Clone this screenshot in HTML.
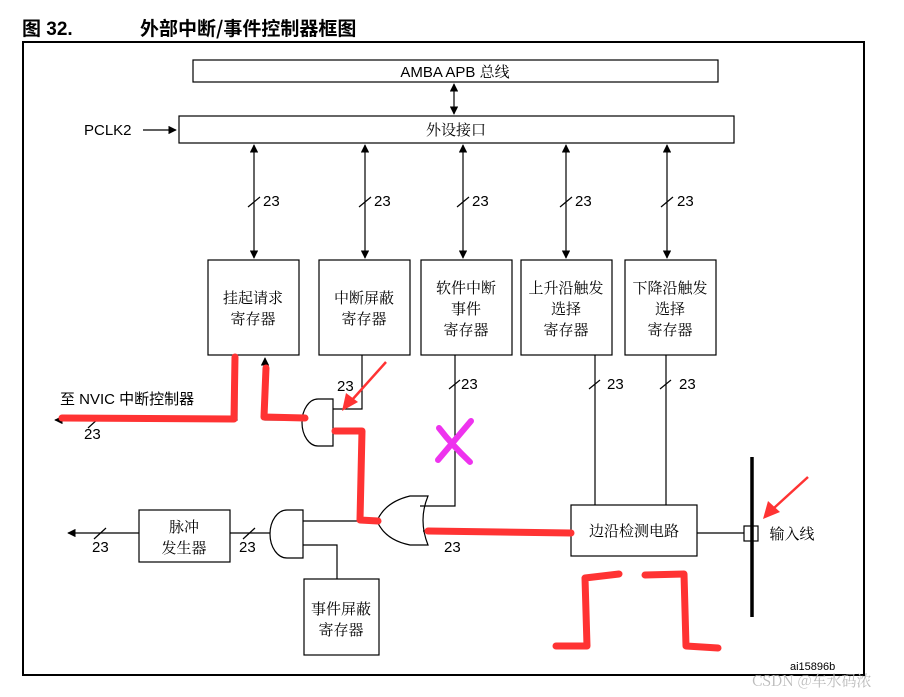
<!DOCTYPE html>
<html><head><meta charset="utf-8"><style>
html,body{margin:0;padding:0;background:#fff;}
svg{display:block;font-family:"Liberation Sans","Noto Sans CJK SC",sans-serif;}
.cj{font-family:"Noto Serif CJK SC","Noto Sans CJK SC",serif;}
</style></head><body>
<svg width="904" height="697" viewBox="0 0 904 697" xmlns="http://www.w3.org/2000/svg">
<defs>
<marker id="a" viewBox="0 0 10 10" refX="9" refY="5" markerWidth="7" markerHeight="7" orient="auto-start-reverse"><path d="M0,0 L10,5 L0,10 z" fill="#000"/></marker>
</defs>
<text x="22" y="35" font-size="19" font-weight="bold">图 32.</text>
<text x="140" y="35" font-size="19" font-weight="bold" font-family="Noto Sans CJK SC, sans-serif">外部中断/事件控制器框图</text>
<rect x="23" y="42" width="841" height="633" fill="none" stroke="#000" stroke-width="2"/>
<g fill="none" stroke="#000" stroke-width="1.2">
<rect x="193" y="60" width="525" height="22"/>
<rect x="179" y="116" width="555" height="27"/>
<line x1="454" y1="84" x2="454" y2="114" marker-start="url(#a)" marker-end="url(#a)"/>
<line x1="143" y1="130" x2="176" y2="130" marker-end="url(#a)"/>
<line x1="254" y1="145" x2="254" y2="258" marker-start="url(#a)" marker-end="url(#a)"/>
<line x1="365" y1="145" x2="365" y2="258" marker-start="url(#a)" marker-end="url(#a)"/>
<line x1="463" y1="145" x2="463" y2="258" marker-start="url(#a)" marker-end="url(#a)"/>
<line x1="566" y1="145" x2="566" y2="258" marker-start="url(#a)" marker-end="url(#a)"/>
<line x1="667" y1="145" x2="667" y2="258" marker-start="url(#a)" marker-end="url(#a)"/>
<line x1="248" y1="207" x2="260" y2="197"/><line x1="359" y1="207" x2="371" y2="197"/><line x1="457" y1="207" x2="469" y2="197"/><line x1="560" y1="207" x2="572" y2="197"/><line x1="661" y1="207" x2="673" y2="197"/>
<rect x="208" y="260" width="91" height="95"/>
<rect x="319" y="260" width="91" height="95"/>
<rect x="421" y="260" width="91" height="95"/>
<rect x="521" y="260" width="91" height="95"/>
<rect x="625" y="260" width="91" height="95"/>
<polyline points="455,355 455,506 420,506"/>
<line x1="595" y1="355" x2="595" y2="505"/>
<line x1="666" y1="355" x2="666" y2="505"/>
<line x1="449" y1="389" x2="460" y2="380"/><line x1="589" y1="389" x2="600" y2="380"/><line x1="660" y1="389" x2="671" y2="380"/>
<rect x="571" y="505" width="126" height="51"/>
<line x1="697" y1="533" x2="744" y2="533"/>
<path d="M333,399 L318,399 A16,23.5 0 0 0 318,446 L333,446 Z"/>
<polyline points="362,355 362,409 333,409"/>
<line x1="333" y1="430" x2="360" y2="430"/>
<polyline points="302,420 265,420 265,358" marker-end="url(#a)"/>
<polyline points="237,355 237,420 55,420" marker-end="url(#a)"/>
<line x1="88" y1="428" x2="100" y2="417"/>
<path d="M428,496 Q418,520 428,545 L410,545 Q385,540 377,521 Q385,502 410,496 Z"/>
<line x1="423" y1="531" x2="571" y2="531"/>
<polyline points="377,521 303,521"/>
<path d="M303,510 L287,510 A17,24 0 0 0 287,558 L303,558 Z"/>
<polyline points="303,545 337,545 337,579"/>
<line x1="270" y1="533" x2="230" y2="533"/>
<line x1="243" y1="539" x2="255" y2="528"/>
<rect x="139" y="510" width="91" height="52"/>
<line x1="139" y1="533" x2="68" y2="533" marker-end="url(#a)"/>
<line x1="94" y1="539" x2="106" y2="528"/>
<rect x="304" y="579" width="75" height="76"/>
<rect x="744" y="526" width="14" height="15"/>
</g>
<line x1="752" y1="457" x2="752" y2="617" stroke="#000" stroke-width="3.5"/>
<g font-size="15">
<text x="455" y="77" text-anchor="middle">AMBA APB <tspan class="cj">总线</tspan></text>
<text x="84" y="135">PCLK2</text>
<text x="456" y="135" text-anchor="middle" class="cj">外设接口</text>
<text x="263" y="206">23</text><text x="374" y="206">23</text><text x="472" y="206">23</text><text x="575" y="206">23</text><text x="677" y="206">23</text>
<text x="337" y="391">23</text><text x="461" y="389">23</text><text x="607" y="389">23</text><text x="679" y="389">23</text>
<text x="84" y="439">23</text><text x="92" y="552">23</text><text x="239" y="552">23</text><text x="444" y="552">23</text>
<text x="60" y="404">至 NVIC 中断控制器</text>
</g>
<g font-size="15" class="cj" text-anchor="middle">
<text x="253" y="303">挂起请求</text><text x="253" y="324">寄存器</text>
<text x="364" y="303">中断屏蔽</text><text x="364" y="324">寄存器</text>
<text x="466" y="293">软件中断</text><text x="466" y="314">事件</text><text x="466" y="335">寄存器</text>
<text x="566" y="293">上升沿触发</text><text x="566" y="314">选择</text><text x="566" y="335">寄存器</text>
<text x="670" y="293">下降沿触发</text><text x="670" y="314">选择</text><text x="670" y="335">寄存器</text>
<text x="184" y="532">脉冲</text><text x="184" y="553">发生器</text>
<text x="341" y="614">事件屏蔽</text><text x="341" y="635">寄存器</text>
<text x="634" y="536">边沿检测电路</text>
<text x="792" y="539">输入线</text>
</g>
<text x="790" y="670" font-size="11">ai15896b</text>
<text x="752" y="686" font-size="15" fill="#bbb" class="cj">CSDN @车水码浓</text>
<g fill="none" stroke="#f33" stroke-width="7" stroke-linecap="round" stroke-linejoin="round">
<polyline points="235,357 234,419 62,418"/>
<polyline points="266,368 264,417 305,418"/>
<polyline points="335,431 362,431 360,520 378,521"/>
<polyline points="428,531 571,533"/>
<polyline points="556,646 587,646 585,578 619,574"/>
<polyline points="645,575 684,574 686,646 718,648"/>
</g>
<line x1="386" y1="362" x2="352" y2="400" stroke="#f33" stroke-width="2.5"/>
<path d="M342,411 L346,393 L358,402 Z" fill="#f33"/>
<line x1="808" y1="477" x2="774" y2="508" stroke="#f33" stroke-width="2.5"/>
<path d="M763,519 L768,501 L780,512 Z" fill="#f33"/>
<g stroke="#e3e" stroke-width="6" stroke-linecap="round" fill="none">
<path d="M439,428 Q452,445 470,462"/><path d="M471,421 Q455,440 438,460"/>
</g>
</svg>
</body></html>
